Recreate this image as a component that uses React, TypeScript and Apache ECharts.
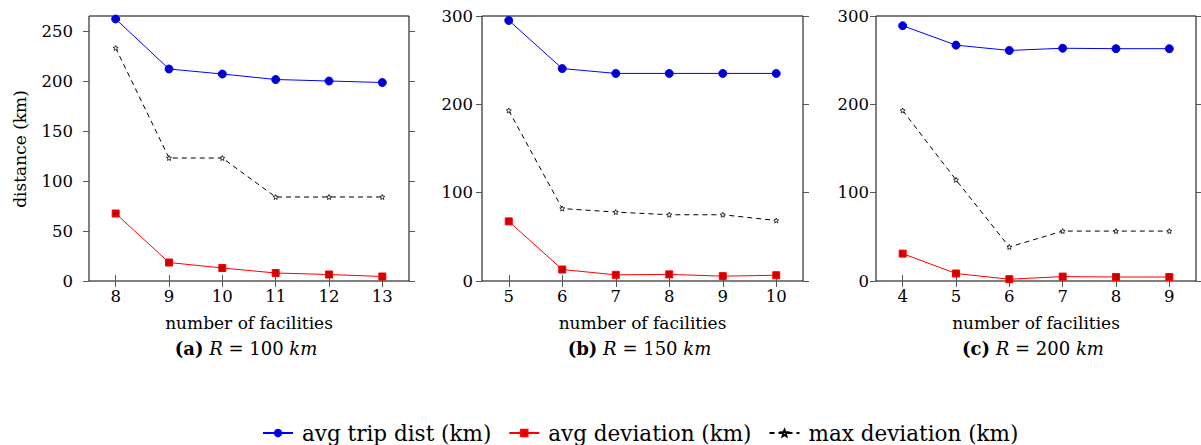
import React, { useEffect, useRef } from "react";
import * as echarts from "echarts";

const xA = ["8", "9", "10", "11", "12", "13"];
const avgTripA = [262, 212, 207, 201.5, 200, 198.5];
const avgDevA = [67.5, 18.5, 13, 8, 6.5, 4.5];
const maxDevA = [233, 123, 123, 84, 84, 84];

const xB = ["5", "6", "7", "8", "9", "10"];
const avgTripB = [295, 240.5, 235, 235, 235, 235];
const avgDevB = [67.5, 13, 7, 7.5, 5.5, 6.5];
const maxDevB = [193, 82, 78, 75, 75, 68.5];

const xC = ["4", "5", "6", "7", "8", "9"];
const avgTripC = [289, 267, 261, 263.5, 263, 263];
const avgDevC = [31, 8.5, 2, 5, 4.5, 4.5];
const maxDevC = [193, 114.5, 38.5, 56.5, 56.5, 56.5];

const yTicksA = [0, 50, 100, 150, 200, 250];
const yTicksBC = [0, 100, 200, 300];
const yMaxA = 265;
const yMaxBC = 300;

const panelTitles = [
  { tag: "(a)", r: "100" },
  { tag: "(b)", r: "150" },
  { tag: "(c)", r: "200" },
];
const seriesNames = ["avg trip dist (km)", "avg deviation (km)", "max deviation (km)"];

const FONT = "DejaVu Serif";
const STAR = "path://M0,-5 L1.4,-1.6 L5,-1.2 L2.2,1.3 L3,5 L0,3 L-3,5 L-2.2,1.3 L-5,-1.2 L-1.4,-1.6 Z";

export default function App() {
  const ref = useRef<HTMLDivElement>(null);
  useEffect(() => {
    if (!ref.current) return;
    const chart = echarts.init(ref.current, null, { renderer: "svg" });
    const grids = [
      { left: 89, width: 320 },
      { left: 482, width: 321 },
      { left: 876, width: 320 },
    ];
    const cats = [xA, xB, xC];
    const data = [
      [avgTripA, avgDevA, maxDevA],
      [avgTripB, avgDevB, maxDevB],
      [avgTripC, avgDevC, maxDevC],
    ];
    const yTicks = [yTicksA, yTicksBC, yTicksBC];
    const yMax = [yMaxA, yMaxBC, yMaxBC];
    const labelMargins = [16, 9, 7];

    const xAxis: any[] = [];
    const yAxis: any[] = [];
    const series: any[] = [];
    const graphic: any[] = [];
    grids.forEach((g, i) => {
      xAxis.push({
        type: "category",
        gridIndex: i,
        data: cats[i],
        boundaryGap: true,
        position: "bottom",
        axisLine: { show: false },
        axisTick: { show: true, inside: true, length: 6, alignWithLabel: true, lineStyle: { color: "#555", width: 1 } },
        axisLabel: { color: "#000", fontFamily: FONT, fontSize: 16.5, margin: 7 },
        splitLine: { show: false },
        name: "number of facilities",
        nameLocation: "middle",
        nameGap: 33,
        nameTextStyle: { color: "#000", fontFamily: FONT, fontSize: 17 },
      });
      xAxis.push({
        type: "category",
        gridIndex: i,
        data: cats[i],
        boundaryGap: true,
        position: "top",
        axisLine: { show: false },
        axisTick: { show: true, inside: true, length: 6, alignWithLabel: true, lineStyle: { color: "#555", width: 1 } },
        axisLabel: { show: false },
        splitLine: { show: false },
      });
      yAxis.push({
        type: "value",
        gridIndex: i,
        min: 0,
        max: yMax[i],
        position: "left",
        axisLine: { show: false },
        axisTick: { show: true, inside: false, length: 6, customValues: yTicks[i], lineStyle: { color: "#555", width: 1 } },
        axisLabel: { color: "#000", fontFamily: FONT, fontSize: 16.5, margin: labelMargins[i], customValues: yTicks[i] },
        splitLine: { show: false },
      });
      yAxis.push({
        type: "value",
        gridIndex: i,
        min: 0,
        max: yMax[i],
        position: "right",
        axisLine: { show: false },
        axisTick: { show: true, inside: false, length: 6, customValues: yTicks[i], lineStyle: { color: "#555", width: 1 } },
        axisLabel: { show: false },
        splitLine: { show: false },
      });
      const xi = i * 2;
      const yi = i * 2;
      series.push({
        name: seriesNames[0],
        type: "line",
        xAxisIndex: xi,
        yAxisIndex: yi,
        data: data[i][0],
        symbol: "circle",
        symbolSize: 8,
        lineStyle: { color: "#0000ff", width: 1 },
        itemStyle: { color: "#0000cc", borderColor: "#0000ff", borderWidth: 1 },
        z: 3,
      });
      series.push({
        name: seriesNames[1],
        type: "line",
        xAxisIndex: xi,
        yAxisIndex: yi,
        data: data[i][1],
        symbol: "rect",
        symbolSize: 7,
        lineStyle: { color: "#ff0000", width: 1 },
        itemStyle: { color: "#cc0000", borderColor: "#ff0000", borderWidth: 1 },
        z: 3,
      });
      series.push({
        name: seriesNames[2],
        type: "line",
        xAxisIndex: xi,
        yAxisIndex: yi,
        data: data[i][2],
        symbol: STAR,
        symbolSize: 5,
        lineStyle: { color: "#000000", width: 1, type: [5, 4] },
        itemStyle: { color: "#ffffff", borderColor: "#000000", borderWidth: 0.8 },
        z: 2,
      });
      const cx = g.left + g.width / 2;
      const t = panelTitles[i];
      graphic.push({
        type: "text",
        x: cx - 3,
        y: 348,
        style: {
          text: `{b|${t.tag}} {i|R} = ${t.r} {i|km}`,
          align: "center",
          verticalAlign: "middle",
          fontFamily: FONT,
          fontSize: 18,
          fill: "#000",
          rich: {
            b: { fontWeight: "bold", fontFamily: FONT, fontSize: 18 },
            i: { fontStyle: "italic", fontFamily: FONT, fontSize: 18 },
          },
        },
      });
    });
    graphic.push({
      type: "text",
      x: 20,
      y: 149,
      rotation: Math.PI / 2,
      style: {
        text: "distance (km)",
        align: "center",
        verticalAlign: "middle",
        fontFamily: FONT,
        fontSize: 17,
        fill: "#000",
      },
    });

    chart.setOption({
      animation: false,
      backgroundColor: "#ffffff",
      grid: grids.map((g) => ({
        left: g.left,
        width: g.width,
        top: 16,
        height: 265,
        show: true,
        borderColor: "#000",
        borderWidth: 1,
        backgroundColor: "transparent",
      })),
      xAxis,
      yAxis,
      series,
      graphic,
      legend: {
        data: seriesNames,
        left: 262,
        top: 422,
        padding: 0,
        itemWidth: 30,
        itemHeight: 8,
        itemGap: 17,
        textStyle: { color: "#000", fontFamily: FONT, fontSize: 21.5, padding: [0, 0, 0, 4] },
      },
    });
    return () => chart.dispose();
  }, []);
  return (
    <div
      ref={ref}
      style={{ position: "absolute", left: 0, top: 0, width: 1201, height: 445 }}
    />
  );
}
